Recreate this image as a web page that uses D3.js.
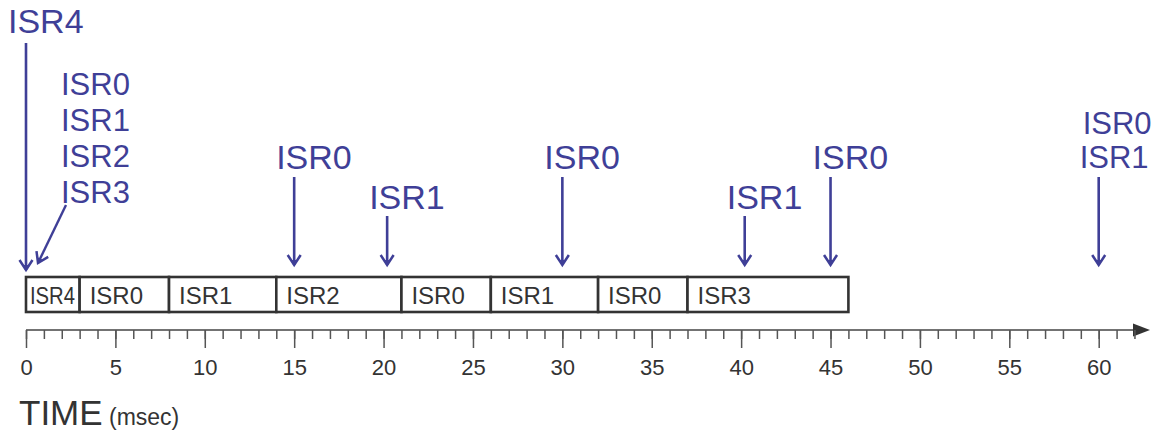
<!DOCTYPE html>
<html lang="en">
<head>
<meta charset="UTF-8">
<title>ISR timeline</title>
<script src="https://d3js.org/d3.v7.min.js"></script>
<style>
    body { margin: 0; background: #fff; }
    text { font-family: "Liberation Sans", Arial, sans-serif; }
    .evt { fill: #3f3f97; }
    .seg-label { fill: #333; font-size: 24px; }
    .tick-label { fill: #333; font-size: 22px; }
</style>
</head>
<body>
<svg id="svg" width="1164" height="432"></svg>
<script>
    // timeline segments (msec)
    const segLabels = ["ISR4", "ISR0", "ISR1", "ISR2", "ISR0", "ISR1", "ISR0", "ISR3"];
    const segStarts = [0, 3, 8, 14, 21, 26, 32, 37];
    const segEnds = [3, 8, 14, 21, 26, 32, 37, 46];

    // interrupt events (msec) with their labels
    const eventTimes = [0, 15, 20.2, 30, 40.2, 45, 60];
    const eventLabels = [["ISR4"], ["ISR0"], ["ISR1"], ["ISR0"], ["ISR1"], ["ISR0"], ["ISR0", "ISR1"]];
    const stackLabels = ["ISR0", "ISR1", "ISR2", "ISR3"];

    const majorTicks = d3.range(0, 61, 5);
    const minorTicks = d3.range(0, 63);

    const blue = "#3f3f97", dark = "#333";
    const svg = d3.select("#svg");
    const x = d3.scaleLinear().domain([0, 60]).range([26, 1098.7]);

    const axisY = 330, boxTop = 277, boxBottom = 312;

    // arrow marker: open V with a small solid tip
    const marker = svg.append("defs").append("marker")
        .attr("id", "head")
        .attr("viewBox", "-14 -9 16 18")
        .attr("refX", 0).attr("refY", 0)
        .attr("markerWidth", 16).attr("markerHeight", 18)
        .attr("markerUnits", "userSpaceOnUse")
        .attr("orient", "auto")
        .style("overflow", "visible");
    marker.append("path").attr("d", "M-10,-6.5L0,0L-10,6.5")
        .attr("fill", "none").attr("stroke", blue).attr("stroke-width", 2.5);
    marker.append("path").attr("d", "M-5,-3L0.5,0L-5,3Z")
        .attr("fill", blue);

    // segments
    const segs = svg.append("g");
    segLabels.forEach((lab, i) => {
        segs.append("rect")
            .attr("x", x(segStarts[i])).attr("y", boxTop)
            .attr("width", x(segEnds[i]) - x(segStarts[i]))
            .attr("height", boxBottom - boxTop)
            .attr("fill", "#fff").attr("stroke", dark).attr("stroke-width", 2.6);
        const t = segs.append("text").attr("class", "seg-label")
            .attr("x", x(segStarts[i]) + (i === 0 ? 4 : 10))
            .attr("y", 304)
            .text(lab);
        if (i === 0) {
            t.attr("font-family", "'Liberation Sans Narrow', 'DejaVu Sans Condensed', sans-serif")
                .attr("textLength", 45).attr("lengthAdjust", "spacingAndGlyphs")
                .style("font-weight", 300);
        }
    });

    // time axis
    const axisG = svg.append("g").attr("transform", `translate(0,${axisY})`);
    axisG.append("line")
        .attr("x1", x(0)).attr("x2", 1136).attr("y1", 0).attr("y2", 0)
        .attr("stroke", "#444").attr("stroke-width", 1.6);
    axisG.append("path").attr("d", "M1133,-6.5L1150,0L1133,6.5Z").attr("fill", "#333");

    const minorAxis = axisG.append("g")
        .call(d3.axisBottom(x).tickValues(minorTicks).tickSize(9).tickFormat(""));
    const majorAxis = axisG.append("g")
        .call(d3.axisBottom(x).tickValues(majorTicks).tickSize(18).tickFormat(d3.format("d")));
    [minorAxis, majorAxis].forEach(g => {
        g.select(".domain").remove();
        g.selectAll(".tick line").attr("stroke", "#555").attr("stroke-width", 1.5);
    });
    majorAxis.selectAll(".tick text")
        .attr("class", "tick-label")
        .attr("fill", dark)
        .attr("dy", null).attr("y", 45)
        .style("font-size", "22px")
        .style("font-family", "'Liberation Sans', Arial, sans-serif");

    svg.append("text").attr("x", 19).attr("y", 425)
        .attr("fill", dark).style("font-size", "35px")
        .text("TIME")
        .append("tspan").style("font-size", "23px").text(" (msec)");

    // event arrows
    const evLayout = [
        { base: 33, y0: 43, y1: 270, fs: 34, lh: 0, dx: -18 },
        { base: 169, y0: 177, y1: 265, fs: 34, lh: 0, dx: -18 },
        { base: 209, y0: 216, y1: 265, fs: 34, lh: 0, dx: -18 },
        { base: 169, y0: 177, y1: 265, fs: 34, lh: 0, dx: -18 },
        { base: 209, y0: 216, y1: 265, fs: 34, lh: 0, dx: -18 },
        { base: 169, y0: 177, y1: 265, fs: 34, lh: 0, dx: -18 },
        { base: 168, y0: 177, y1: 265, fs: 31, lh: 34, dx: -19 }
    ];
    const evG = svg.append("g");
    eventTimes.forEach((t, i) => {
        const L = evLayout[i];
        const labs = eventLabels[i];
        labs.forEach((lab, j) => {
            evG.append("text").attr("class", "evt")
                .attr("x", x(t) + L.dx + (labs.length > 1 && j === 0 ? 3 : 0))
                .attr("y", L.base - (labs.length - 1 - j) * L.lh)
                .style("font-size", L.fs + "px")
                .text(lab);
        });
        evG.append("line")
            .attr("x1", x(t)).attr("x2", x(t))
            .attr("y1", L.y0).attr("y2", L.y1)
            .attr("stroke", blue).attr("stroke-width", 2.6)
            .attr("marker-end", "url(#head)");
    });

    // stacked simultaneous interrupts at t=0 with diagonal arrow
    stackLabels.forEach((lab, j) => {
        evG.append("text").attr("class", "evt")
            .attr("x", 61).attr("y", 95 + j * 36)
            .style("font-size", "31px")
            .text(lab);
    });
    evG.append("line")
        .attr("x1", 66).attr("y1", 205)
        .attr("x2", x(0) + 12).attr("y2", 263)
        .attr("stroke", blue).attr("stroke-width", 2.4)
        .attr("marker-end", "url(#head)");
</script>
</body>
</html>
